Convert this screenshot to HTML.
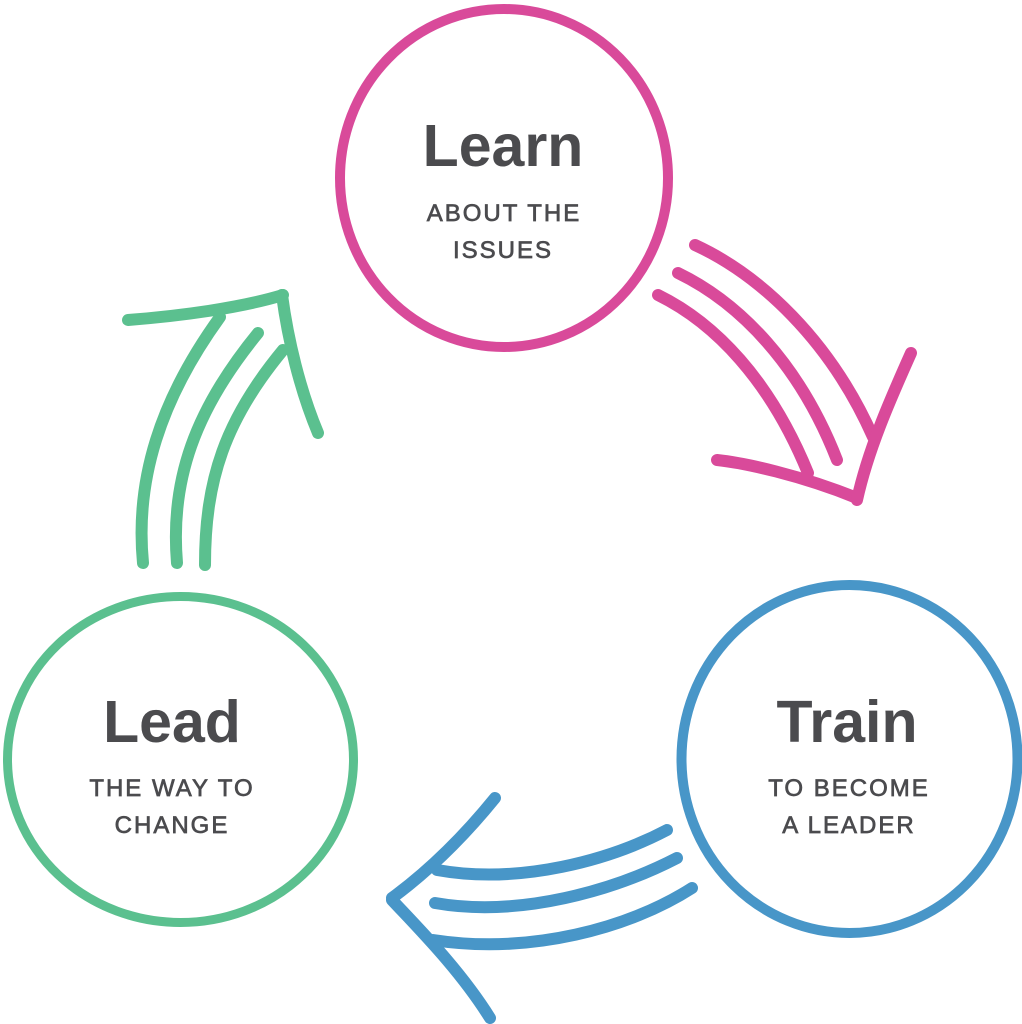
<!DOCTYPE html>
<html><head><meta charset="utf-8"><style>
html,body{margin:0;padding:0;background:#fff;}
svg{display:block;}
.h{font-family:"Liberation Sans",sans-serif;font-weight:bold;font-size:59px;fill:#4b4b4e;}
.s{font-family:"Liberation Sans",sans-serif;font-size:24px;letter-spacing:2px;fill:#4b4b4e;stroke:#4b4b4e;stroke-width:0.7;}
.p{fill:none;stroke:#d94a9a;stroke-linecap:round;stroke-linejoin:round;}
.b{fill:none;stroke:#4896c8;stroke-linecap:round;stroke-linejoin:round;}
.g{fill:none;stroke:#5bc08f;stroke-linecap:round;stroke-linejoin:round;}
</style></head><body>
<svg width="1022" height="1024" viewBox="0 0 1022 1024" xmlns="http://www.w3.org/2000/svg">
<!-- circles -->
<ellipse cx="504" cy="178" rx="164" ry="169" class="p" stroke-width="10"/>
<ellipse cx="180.5" cy="759.5" rx="173" ry="163" class="g" stroke-width="9"/>
<ellipse cx="849.5" cy="759" rx="168" ry="174" class="b" stroke-width="10"/>

<!-- pink arrow -->
<g class="p" stroke-width="12">
<path d="M695,245 C760,275 830,340 873,437"/>
<path d="M678,273 C740,303 800,365 837,460"/>
<path d="M658,295 C715,323 770,380 808,473"/>
<path d="M717,460 C745,463 800,475 857,498"/>
<path d="M911,353 C890,400 868,450 857,500"/>
</g>

<!-- blue arrow -->
<g class="b" stroke-width="12">
<path d="M667,830 C610,860 520,885 437,870"/>
<path d="M677,858 C615,890 520,918 435,903"/>
<path d="M692,888 C630,928 530,955 433,940"/>
<path d="M495,798 C465,835 430,870 392,898"/>
<path d="M392,900 C420,930 460,970 490,1018"/>
</g>

<!-- green arrow -->
<g class="g" stroke-width="12">
<path d="M143,563 C135,480 160,400 220,317"/>
<path d="M177,563 C170,480 195,410 258,333"/>
<path d="M205,565 C205,480 225,420 283,350"/>
<path d="M128,320 C180,316 240,308 283,295"/>
<path d="M282,295 C288,340 300,390 318,433"/>
</g>

<!-- text -->
<text x="503" y="166" text-anchor="middle" class="h">Learn</text>
<text x="504" y="221" text-anchor="middle" class="s">ABOUT THE</text>
<text x="503" y="258" text-anchor="middle" class="s">ISSUES</text>

<text x="172" y="742" text-anchor="middle" class="h">Lead</text>
<text x="172" y="796" text-anchor="middle" class="s">THE WAY TO</text>
<text x="172" y="833" text-anchor="middle" class="s">CHANGE</text>

<text x="847" y="742" text-anchor="middle" class="h">Train</text>
<text x="849" y="796" text-anchor="middle" class="s">TO BECOME</text>
<text x="849" y="833" text-anchor="middle" class="s">A LEADER</text>
</svg>
</body></html>
